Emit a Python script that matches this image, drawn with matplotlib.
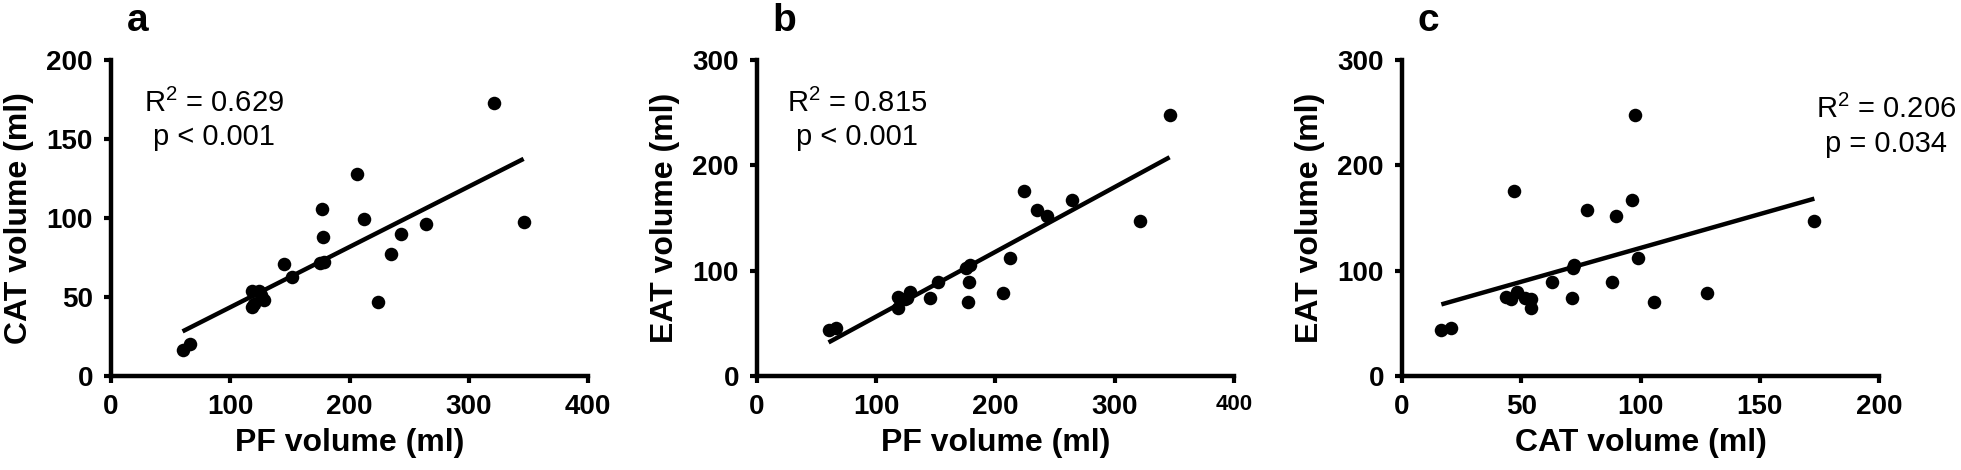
import numpy as np
import matplotlib
matplotlib.use('Agg')
import matplotlib.pyplot as plt

# Volumes (ml), one entry per subject
pf_vol = [60, 66, 118, 120, 128, 126, 124, 118, 145, 152, 175, 179,
          177, 178, 206, 212, 224, 235, 243, 264, 321, 346]
cat_vol = [16.5, 20.5, 43.4, 45.5, 48.1, 51.4, 53.9, 54.1, 71.2, 62.9, 71.6, 72.0,
           105.6, 88.2, 127.8, 99.1, 47.0, 77.5, 89.6, 96.5, 172.9, 97.5]
eat_vol = [43.3, 45.5, 75.0, 72.8, 80.1, 73.8, 72.8, 64.1, 73.8, 88.9, 102.7, 105.8,
           70.6, 89.5, 78.5, 112.4, 175.8, 157.8, 152.3, 167.3, 147.6, 247.4]

stats_txt = ['R$^{2}$ = 0.629\np < 0.001',
             'R$^{2}$ = 0.815\np < 0.001',
             'R$^{2}$ = 0.206\np = 0.034']
panel_ids = ['a', 'b', 'c']

plt.rcParams['font.family'] = ['Liberation Sans', 'DejaVu Sans']
plt.rcParams['mathtext.default'] = 'regular'

fig = plt.figure(figsize=(19.61, 4.70), dpi=100)

W, H = 1961, 470
lefts = [111, 757, 1402]
panels = [
    (pf_vol, cat_vol, 'PF volume (ml)', 'CAT volume (ml)', 400, 200, [0, 100, 200, 300, 400], [0, 50, 100, 150, 200]),
    (pf_vol, eat_vol, 'PF volume (ml)', 'EAT volume (ml)', 400, 300, [0, 100, 200, 300, 400], [0, 100, 200, 300]),
    (cat_vol, eat_vol, 'CAT volume (ml)', 'EAT volume (ml)', 200, 300, [0, 50, 100, 150, 200], [0, 100, 200, 300]),
]
text_pos = [(86, 0.81), (84, 0.81), (203, 0.79)]

for i, (xs, ys, xl, yl, xmax, ymax, xt, yt) in enumerate(panels):
    ax = fig.add_axes([lefts[i] / W, (H - 376) / H, 477 / W, 316 / H])
    xs = np.array(xs)
    ys = np.array(ys)
    ax.scatter(xs, ys, s=95, color='black', zorder=3, linewidths=0)

    # droite de régression
    k, b = np.polyfit(xs, ys, 1)
    xx = np.array([xs.min(), xs.max()])
    ax.plot(xx, k * xx + b, color='black', lw=3.2, solid_capstyle='butt')

    ax.set_xlim(0, xmax)
    ax.set_ylim(0, ymax)
    ax.set_xticks(xt)
    ax.set_yticks(yt)
    for s in ['top', 'right']:
        ax.spines[s].set_visible(False)
    for s in ['left', 'bottom']:
        ax.spines[s].set_linewidth(3.2)
    ax.tick_params(width=3, length=5, labelsize=20, pad=8)
    for lab in ax.get_xticklabels() + ax.get_yticklabels():
        lab.set_fontweight('bold')
    if i == 1:
        ax.get_xticklabels()[-1].set_fontsize(16)

    ax.set_xlabel(xl, fontsize=23, fontweight='bold', labelpad=6)
    ax.set_ylabel(yl, fontsize=23, fontweight='bold', labelpad=9)

    tx, ty = text_pos[i]
    ax.text(tx, ty, stats_txt[i], transform=ax.get_xaxis_transform(), ha='center', va='center',
            fontsize=21, linespacing=1.25, multialignment='center', clip_on=False)

    ax.text(lefts[i] / W + 0.008, 0.955, panel_ids[i], transform=fig.transFigure,
            fontsize=28, fontweight='bold', ha='left', va='center')

fig.savefig('out.png', dpi=100)
